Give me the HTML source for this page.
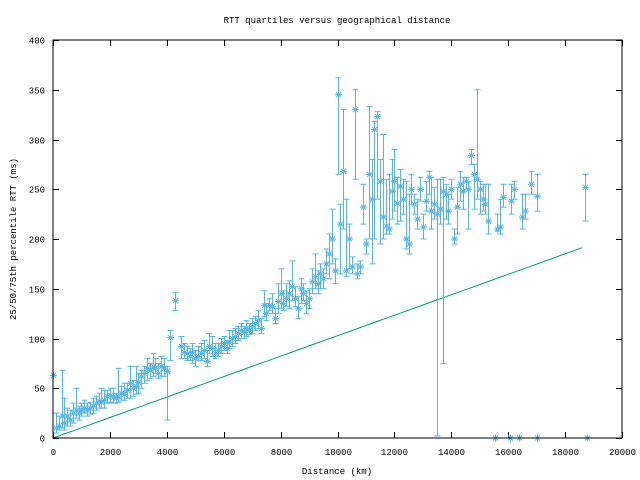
<!DOCTYPE html>
<html><head><meta charset="utf-8"><style>
body{margin:0;background:#fff}
svg{display:block}
text{font-family:"Liberation Mono","DejaVu Sans Mono",monospace;font-size:9px;fill:#000}
</style></head><body>
<svg id="s" width="640" height="480" xmlns="http://www.w3.org/2000/svg">
<rect width="640" height="480" fill="#fff"/>
<g id="ax"></g>
<g id="g"></g>
<rect x="53" y="40" width="569" height="398" fill="none" stroke="#000" stroke-width="1"/>
<text x="337" y="23" text-anchor="middle">RTT quartiles versus geographical distance</text>
<text x="337" y="474" text-anchor="middle">Distance (km)</text>
<text transform="translate(16,239) rotate(-90)" text-anchor="middle">25/50/75th percentile RTT (ms)</text>
</svg>
<script>
var ns="http://www.w3.org/2000/svg",ax=document.getElementById('ax'),g=document.getElementById('g');
function X(k){return 53+k*0.02845}function Y(v){return 438-v*0.995}
function el(t,a,p){var e=document.createElementNS(ns,t);for(var k in a)e.setAttribute(k,a[k]);(p||g).appendChild(e);return e}
for(var v=0;v<=400;v+=50){var y=Math.round(Y(v))+.5;el('line',{x1:53,x2:59,y1:y,y2:y,stroke:'#000'},ax);el('line',{x1:616,x2:622,y1:y,y2:y,stroke:'#000'},ax);var t=el('text',{x:45,y:y+3,'text-anchor':'end'},ax);t.textContent=v}
for(var k=0;k<=20000;k+=2000){var x=Math.round(X(k))+.5;el('line',{x1:x,x2:x,y1:432,y2:438,stroke:'#000'},ax);el('line',{x1:x,x2:x,y1:40,y2:46,stroke:'#000'},ax);var t=el('text',{x:x,y:455,'text-anchor':'middle'},ax);t.textContent=k}
// green line
var pts=[];for(var k=0;k<=18770;k+=200){pts.push(X(k).toFixed(1)+','+Y(k*0.01028).toFixed(1))}
el('polyline',{points:pts.join(' '),fill:'none',stroke:'#009e73','stroke-width':1});
var d=[[0,63,63,63],[100,10,5,25],[200,12,8,22],[300,22,10,68],[400,15,8,40],[500,22,12,30],[600,18,12,28],[700,25,15,35],[800,28,20,50],[900,25,18,32],[1000,28,22,35],[1100,30,25,38],[1200,28,22,35],[1300,30,24,36],[1400,32,25,40],[1500,35,28,42],[1600,37,30,45],[1700,36,30,50],[1800,38,30,48],[1900,42,35,48],[2000,43,36,50],[2100,41,35,50],[2200,40,35,45],[2300,42,36,70],[2400,45,38,52],[2500,44,38,55],[2600,48,40,55],[2700,55,40,72],[2800,50,42,58],[2900,52,44,72],[3000,56,45,65],[3100,62,50,68],[3200,65,55,72],[3300,70,58,80],[3400,68,60,75],[3500,72,62,85],[3600,70,65,80],[3700,65,60,75],[3800,72,62,82],[3900,70,62,80],[4000,67,18,72],[4100,101,78,108],[4300,138,128,146],[4500,92,80,102],[4600,86,80,95],[4700,85,78,92],[4800,82,78,90],[4900,86,75,95],[5000,80,72,88],[5100,82,78,92],[5200,85,78,95],[5300,88,80,98],[5400,77,72,88],[5500,92,85,105],[5600,90,82,102],[5700,85,80,95],[5800,88,82,95],[5900,92,85,100],[6000,95,88,102],[6100,90,85,98],[6200,96,90,108],[6300,100,92,108],[6400,102,95,110],[6500,105,98,112],[6600,108,100,115],[6700,106,100,112],[6800,110,102,118],[6900,108,104,115],[7000,112,105,120],[7100,115,108,122],[7200,118,110,128],[7300,110,105,120],[7400,133,122,148],[7500,125,118,135],[7600,133,128,140],[7700,132,125,145],[7800,120,115,130],[7900,137,125,155],[8000,145,130,170],[8100,135,128,148],[8200,140,132,155],[8300,145,130,158],[8400,152,138,178],[8500,140,132,152],[8600,130,120,142],[8700,150,135,160],[8800,145,138,155],[8900,135,125,148],[9000,140,130,150],[9100,157,145,170],[9200,162,150,185],[9300,155,145,168],[9400,165,150,175],[9500,160,150,170],[9600,175,165,190],[9700,185,160,205],[9800,200,175,230],[9900,168,155,180],[10000,345,265,362],[10100,215,165,235],[10200,268,210,330],[10300,168,162,240],[10400,200,170,215],[10500,172,165,182],[10600,330,260,350],[10700,165,160,175],[10800,172,165,178],[10900,232,215,255],[11000,195,185,200],[11100,265,200,333],[11200,240,175,280],[11300,310,200,318],[11400,323,240,328],[11500,258,195,280],[11600,222,200,305],[11700,213,205,260],[11800,210,205,265],[11900,248,220,280],[12000,258,228,290],[12100,236,215,262],[12200,253,218,270],[12300,240,225,260],[12400,200,190,258],[12500,195,185,245],[12600,250,235,265],[12700,235,225,245],[12800,220,210,240],[12900,250,238,262],[13000,212,200,225],[13100,238,228,258],[13200,262,245,268],[13300,228,210,262],[13400,235,220,252],[13500,225,2,260],[13600,230,215,260],[13700,248,75,262],[13800,245,220,255],[13900,228,215,245],[14000,250,240,260],[14100,200,195,210],[14200,232,205,252],[14300,255,238,268],[14400,248,230,262],[14500,258,250,262],[14600,250,210,258],[14700,284,275,290],[14800,265,230,275],[14900,260,240,350],[15000,250,225,258],[15100,240,228,255],[15200,235,225,255],[15300,218,205,255],[15536,0,0,0],[15600,210,208,225],[15700,212,205,240],[15800,242,232,255],[16063,0,0,0],[16100,238,225,255],[16200,250,240,258],[16380,0,0,0],[16500,222,210,245],[16600,228,220,245],[16800,255,245,268],[17012,0,0,0],[17000,243,228,265],[18770,0,0,0],[18700,252,218,265]];
var c='#56b4e9';
d.forEach(function(p){var x=Math.round(X(p[0]))+.5,ym=Y(p[1]),yl=Y(p[2]),yh=Y(p[3]);
if(p[3]!=p[2]){el('line',{x1:x,x2:x,y1:yl,y2:yh,stroke:c});el('line',{x1:x-3,x2:x+3,y1:yl,y2:yl,stroke:c});el('line',{x1:x-3,x2:x+3,y1:yh,y2:yh,stroke:c});}
var r=3.5;el('path',{d:'M'+(x-r)+' '+ym+'h'+2*r+'M'+x+' '+(ym-r)+'v'+2*r+'M'+(x-r+1)+' '+(ym-r+1)+'l'+(2*r-2)+' '+(2*r-2)+'M'+(x-r+1)+' '+(ym+r-1)+'l'+(2*r-2)+' '+(-2*r+2),stroke:c,fill:'none'});});
</script>
</body></html>
